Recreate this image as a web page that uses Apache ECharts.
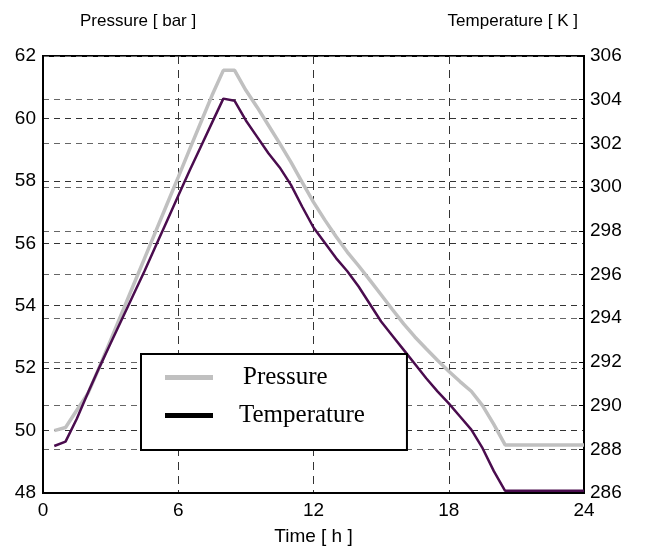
<!DOCTYPE html>
<html>
<head>
<meta charset="utf-8">
<title>Pressure and Temperature</title>
<script src="https://cdn.jsdelivr.net/npm/echarts@6/dist/echarts.min.js"></script>
<style>
  html, body { margin: 0; padding: 0; background: #fff; }
  #chart { width: 666px; height: 552px; }
</style>
</head>
<body>
<div id="chart"></div>
<script>
// Time of day [h]
const hours = [0.5, 1, 1.5, 2, 2.5, 3, 3.5, 4, 4.5, 5, 5.5, 6, 6.5, 7, 7.5, 8, 8.5, 9,
  9.5, 10, 10.5, 11, 11.5, 12, 12.5, 13, 13.5, 14, 14.5, 15, 15.5, 16, 16.5, 17,
  17.5, 18, 18.5, 19, 19.5, 20, 20.5, 24];

// Pressure [bar]
const pressure = [50.0, 50.1, 50.65, 51.2, 52.03, 52.9, 53.77, 54.64, 55.51, 56.38,
  57.25, 58.12, 59.0, 59.87, 60.74, 61.54, 61.54, 60.9,
  60.36, 59.78, 59.2, 58.6, 57.95, 57.32, 56.75, 56.22, 55.72, 55.28, 54.82, 54.35,
  53.88, 53.42, 53.0, 52.62, 52.25, 51.9, 51.57, 51.26, 50.8, 50.2, 49.54, 49.54];

// Temperature [K]
const temperature = [288.15, 288.35, 289.4, 290.6, 291.75, 292.85, 293.95, 295.05,
  296.15, 297.3, 298.45, 299.6, 300.75, 301.85, 302.95, 304.05, 303.95, 303.05,
  302.3, 301.55, 300.9, 300.1, 299.1, 298.15, 297.45, 296.75, 296.15, 295.45, 294.65,
  293.85, 293.2, 292.55, 291.9, 291.25, 290.65, 290.1, 289.5, 288.9, 288.05, 287.0,
  286.1, 286.1];

const timeTicks = { min: 0, max: 24, interval: 6 };
const pressureTicks = { min: 48, max: 62, interval: 2 };
const temperatureTicks = { min: 286, max: 306, interval: 2 };

const sans = 'Liberation Sans, Arial, sans-serif';
const serif = 'Liberation Serif, Times New Roman, serif';

const chart = echarts.init(document.getElementById('chart'), null, { renderer: 'canvas' });

chart.setOption({
  animation: false,
  backgroundColor: '#fff',
  grid: {
    left: 43, right: 82, top: 56, bottom: 59,
    show: true, borderColor: '#000', borderWidth: 2
  },
  legend: {
    orient: 'vertical',
    left: 141, top: 354,
    padding: [11, 42, 22, 24],
    itemGap: 13,
    itemWidth: 48,
    itemHeight: 5,
    icon: 'rect',
    backgroundColor: '#fff',
    borderColor: '#000',
    borderWidth: 2,
    borderRadius: 0,
    selectedMode: false,
    textStyle: { fontFamily: serif, fontSize: 25, color: '#000', lineHeight: 25 },
    data: [
      { name: 'Pressure', itemStyle: { color: '#c0c0c0' },
        textStyle: { padding: [0, 0, 0, 25] } },
      { name: 'Temperature', itemStyle: { color: '#000' },
        textStyle: { padding: [0, 0, 0, 21] } }
    ]
  },
  xAxis: {
    type: 'value',
    min: timeTicks.min, max: timeTicks.max, interval: timeTicks.interval,
    name: 'Time [ h ]',
    nameLocation: 'middle',
    nameGap: 34,
    nameTextStyle: { fontFamily: sans, fontSize: 19, color: '#000' },
    axisLine: { show: true, lineStyle: { color: '#000', width: 2 } },
    axisTick: { show: false },
    axisLabel: { fontFamily: sans, fontSize: 19, color: '#000', margin: 8 },
    splitLine: { show: true, lineStyle: { color: '#333', width: 1, type: [8, 6] } }
  },
  yAxis: [
    {
      type: 'value',
      position: 'left',
      min: pressureTicks.min, max: pressureTicks.max, interval: pressureTicks.interval,
      name: 'Pressure [ bar ]',
      nameLocation: 'end',
      nameGap: 26,
      nameTextStyle: { fontFamily: sans, fontSize: 17, color: '#000', align: 'left',
        padding: [0, 0, 0, 37] },
      axisLine: { show: true, lineStyle: { color: '#000', width: 2 } },
      axisTick: { show: false },
      axisLabel: { fontFamily: sans, fontSize: 19, color: '#000', margin: 7 },
      splitLine: { show: true, lineStyle: { color: '#333', width: 1, type: [6, 5] } }
    },
    {
      type: 'value',
      position: 'right',
      min: temperatureTicks.min, max: temperatureTicks.max, interval: temperatureTicks.interval,
      name: 'Temperature [ K ]',
      nameLocation: 'end',
      nameGap: 26,
      nameTextStyle: { fontFamily: sans, fontSize: 17, color: '#000', align: 'right',
        padding: [0, 6, 0, 0] },
      axisLine: { show: true, lineStyle: { color: '#000', width: 2 } },
      axisTick: { show: true, inside: true, length: 5, lineStyle: { color: '#000', width: 1 } },
      axisLabel: { fontFamily: sans, fontSize: 19, color: '#000', margin: 6 },
      splitLine: { show: true, lineStyle: { color: '#666', width: 1, type: [6, 5] } }
    }
  ],
  series: [
    {
      name: 'Pressure',
      type: 'line',
      yAxisIndex: 0,
      showSymbol: false,
      symbol: 'none',
      itemStyle: { color: '#c0c0c0' },
      lineStyle: { color: '#c0c0c0', width: 3.5 },
      data: hours.map((h, i) => [h, pressure[i]])
    },
    {
      name: 'Temperature',
      type: 'line',
      yAxisIndex: 1,
      showSymbol: false,
      symbol: 'none',
      itemStyle: { color: '#4a0c4e' },
      lineStyle: { color: '#4a0c4e', width: 2.5 },
      data: hours.map((h, i) => [h, temperature[i]])
    }
  ]
});
</script>
</body>
</html>
